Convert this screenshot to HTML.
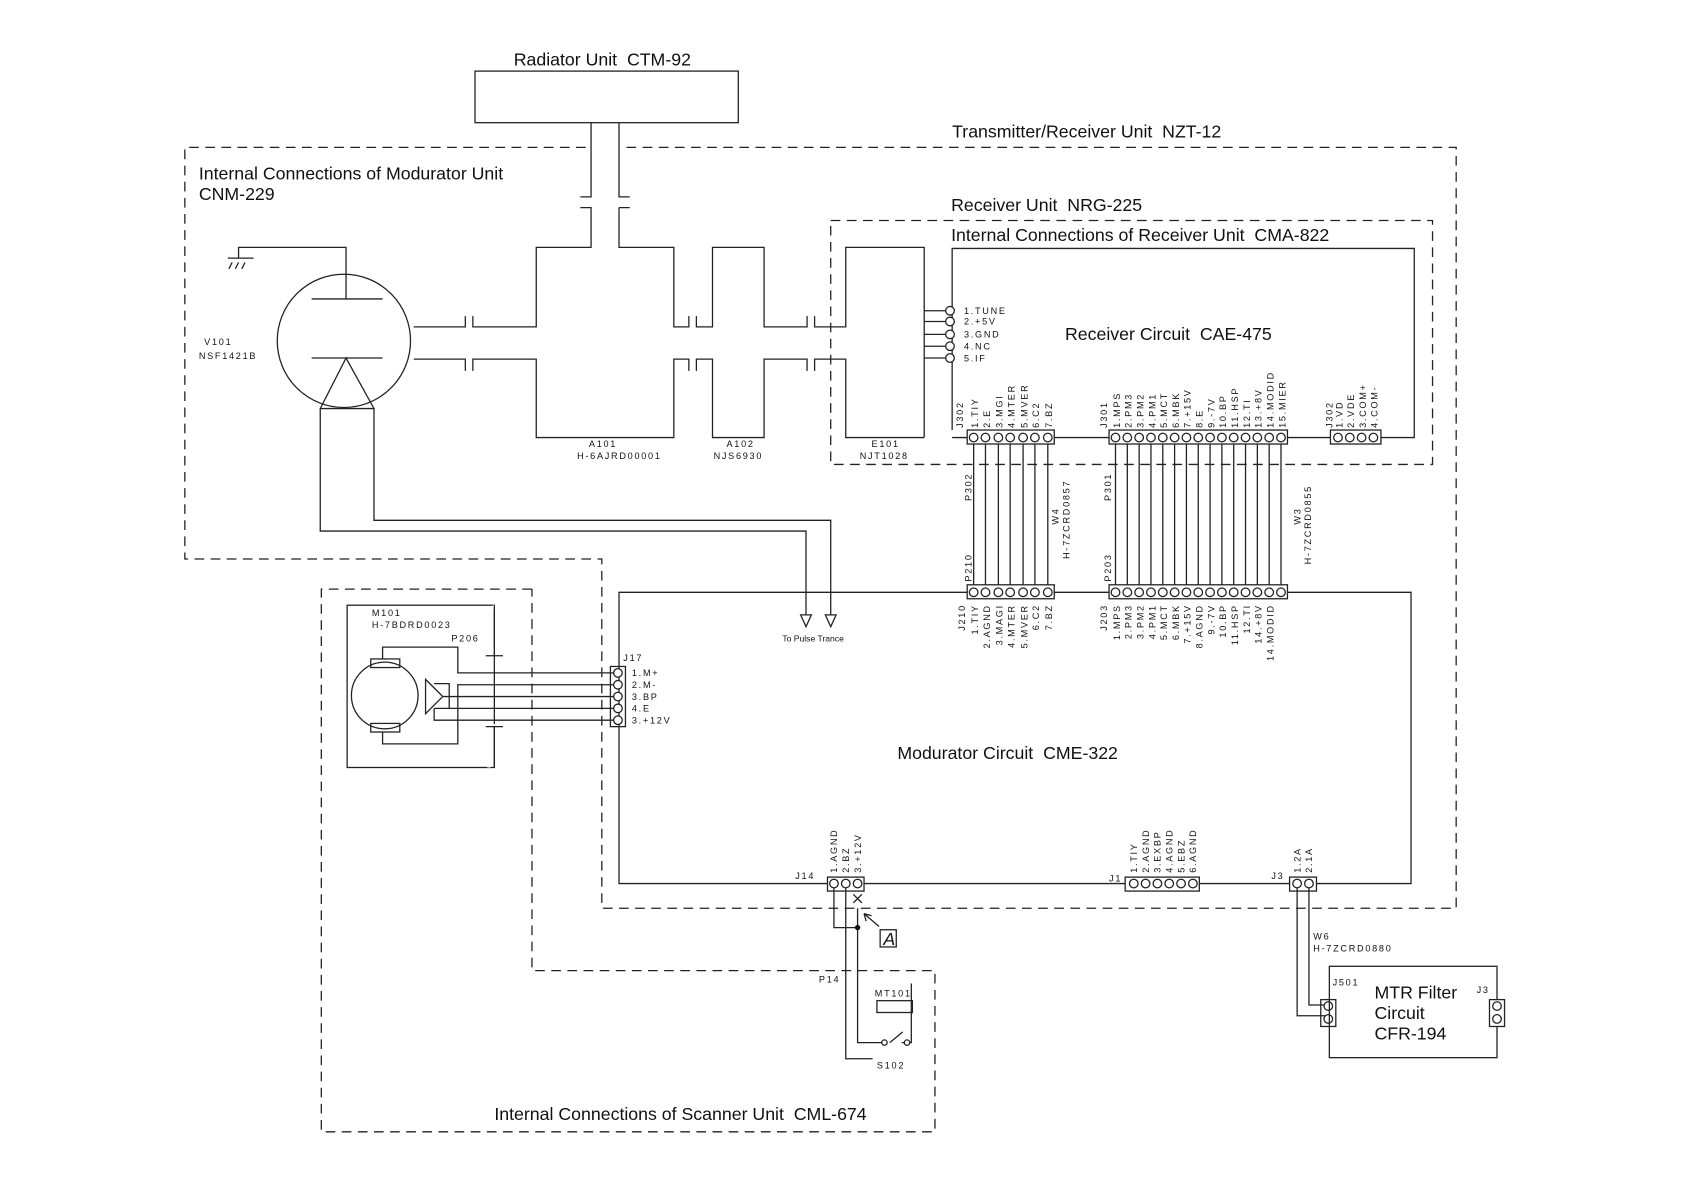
<!DOCTYPE html>
<html><head><meta charset="utf-8"><style>
html,body{margin:0;padding:0;background:#fff;}
svg{display:block}
text{font-family:"Liberation Sans",sans-serif;fill:#111}
.t{font-size:16.5px}
.m{font-family:"Liberation Mono",monospace;font-size:8.5px;letter-spacing:1.6px}
</style></head><body>
<svg width="1684" height="1190" viewBox="0 0 1567 1107" xmlns="http://www.w3.org/2000/svg">
<g fill="none" stroke="#222" stroke-width="1.2">
<g stroke-dasharray="9,6">
<path d="M583 137H1355V845H560V520H172V137H550"/>
<rect x="773" y="205" width="560" height="227"/>
<path d="M495 548H299V1053H870V903H495V548"/>
</g>
<rect x="442" y="66" width="245" height="48"/>
<path d="M550 114V183H540M576 114V183H586M540 193H550V230H499V304H440V294M576 193H586M576 193V230H627V304H641V294M648 294V304H663V230H711V304H751V294M758 294V304H787V230H860V407"/>
<path d="M385 304H433V294"/>
<path d="M385 334H433V345M440 345V334H499V407H627V334H641V345M648 345V334H663V407H711V334H751V345M758 345V334H787V407H860"/>
<circle cx="320" cy="317" r="62"/>
<path d="M290 278H356M290 333H356M322 278V230H222V240M212 240H236M216 244L213 250M222 244L219 250M228 244L225 250M322 333L298 380H348Z"/>
<path d="M298 380V494H750V572M348 380V484H773V572"/>
<path d="M745 572L750 583L755 572ZM768 572L773 583L778 572Z"/>
<path d="M886 400V231H1316V407H1285M1238 407H1198M1032 407H981M900 407H886"/>
<path d="M860 289H880M860 299H880M860 311H880M860 322H880M860 333H880"/>
<g fill="#fff"><circle cx="884" cy="289" r="4"/><circle cx="884" cy="299" r="4"/><circle cx="884" cy="311" r="4"/><circle cx="884" cy="322" r="4"/><circle cx="884" cy="333" r="4"/></g>
<rect x="900" y="400" width="81" height="13"/><rect x="1032" y="400" width="166" height="13"/><rect x="1238" y="400" width="47" height="13"/>
<rect x="900" y="544" width="81" height="13"/><rect x="1032" y="544" width="166" height="13"/>
<path d="M906 413V544M917 413V544M929 413V544M940 413V544M952 413V544M963 413V544M975 413V544"/>
<path d="M1038 413V544M1049 413V544M1060 413V544M1071 413V544M1082 413V544M1093 413V544M1104 413V544M1115 413V544M1126 413V544M1137 413V544M1148 413V544M1159 413V544M1170 413V544M1181 413V544M1192 413V544"/>
<g fill="#fff">
<circle cx="906" cy="407" r="4"/><circle cx="917" cy="407" r="4"/><circle cx="929" cy="407" r="4"/><circle cx="940" cy="407" r="4"/><circle cx="952" cy="407" r="4"/><circle cx="963" cy="407" r="4"/><circle cx="975" cy="407" r="4"/>
<circle cx="906" cy="551" r="4"/><circle cx="917" cy="551" r="4"/><circle cx="929" cy="551" r="4"/><circle cx="940" cy="551" r="4"/><circle cx="952" cy="551" r="4"/><circle cx="963" cy="551" r="4"/><circle cx="975" cy="551" r="4"/>
<circle cx="1245" cy="407" r="4"/><circle cx="1256" cy="407" r="4"/><circle cx="1267" cy="407" r="4"/><circle cx="1278" cy="407" r="4"/>
<circle cx="1038" cy="407" r="4"/><circle cx="1049" cy="407" r="4"/><circle cx="1060" cy="407" r="4"/><circle cx="1071" cy="407" r="4"/><circle cx="1082" cy="407" r="4"/><circle cx="1093" cy="407" r="4"/><circle cx="1104" cy="407" r="4"/><circle cx="1115" cy="407" r="4"/><circle cx="1126" cy="407" r="4"/><circle cx="1137" cy="407" r="4"/><circle cx="1148" cy="407" r="4"/><circle cx="1159" cy="407" r="4"/><circle cx="1170" cy="407" r="4"/><circle cx="1181" cy="407" r="4"/><circle cx="1192" cy="407" r="4"/>
<circle cx="1038" cy="551" r="4"/><circle cx="1049" cy="551" r="4"/><circle cx="1060" cy="551" r="4"/><circle cx="1071" cy="551" r="4"/><circle cx="1082" cy="551" r="4"/><circle cx="1093" cy="551" r="4"/><circle cx="1104" cy="551" r="4"/><circle cx="1115" cy="551" r="4"/><circle cx="1126" cy="551" r="4"/><circle cx="1137" cy="551" r="4"/><circle cx="1148" cy="551" r="4"/><circle cx="1159" cy="551" r="4"/><circle cx="1170" cy="551" r="4"/><circle cx="1181" cy="551" r="4"/><circle cx="1192" cy="551" r="4"/>
</g>
<path d="M900 551H576V822H770M804 822H1047M1116 822H1200M1225 822H1313V551H1198M1032 551H981"/>
<rect x="568" y="620" width="14" height="56"/>
<g fill="#fff"><circle cx="575" cy="626" r="4"/><circle cx="575" cy="637" r="4"/><circle cx="575" cy="648" r="4"/><circle cx="575" cy="659" r="4"/><circle cx="575" cy="670" r="4"/></g>
<rect x="323" y="563" width="137" height="151"/>
<path d="M460 563V567M455 566V605M448 605H462M455 675V714M448 675H462" stroke="#fff" stroke-width="3"/>
<path d="M460 563V610M452 610H468M460 676V714M452 676H468"/>
<circle cx="358" cy="647" r="31"/>
<rect x="345" y="613" width="27" height="8"/><rect x="345" y="673" width="27" height="8"/>
<path d="M356 613V602H426V626H571M356 681V692H426V637H571"/>
<path d="M396 632L412 648L396 664Z M404 636H418V659H404 M412 648H571 M418 659H571 M404 659V670H571"/>
<rect x="770" y="816" width="34" height="13"/><rect x="1047" y="816" width="69" height="13"/><rect x="1200" y="816" width="25" height="13"/>
<g fill="#fff"><circle cx="776" cy="822" r="4"/><circle cx="787" cy="822" r="4"/><circle cx="798" cy="822" r="4"/>
<circle cx="1055" cy="822" r="4"/><circle cx="1066" cy="822" r="4"/><circle cx="1077" cy="822" r="4"/><circle cx="1088" cy="822" r="4"/><circle cx="1099" cy="822" r="4"/><circle cx="1110" cy="822" r="4"/>
<circle cx="1207" cy="822" r="4"/><circle cx="1218" cy="822" r="4"/></g>
<path d="M794 832L802 840M802 832L794 840M776 826V863H798V845M787 826V985H812M798 845V970H822M839 970H848V915M828 970L840 960"/>
<rect x="816" y="931" width="33" height="11"/>
<circle cx="823" cy="970" r="2.5" fill="#fff"/><circle cx="844" cy="970" r="2.5" fill="#fff"/>
<path d="M818 862L804 850M804 850L806 857M804 850L811 852"/>
<rect x="819" y="865" width="15" height="16"/>
<path d="M1207 826V945H1233M1218 826V935H1233"/>
<rect x="1229" y="930" width="14" height="25"/><circle cx="1236" cy="936" r="4" fill="#fff"/><circle cx="1236" cy="948" r="4" fill="#fff"/>
<rect x="1237" y="899" width="156" height="85"/>
<rect x="1386" y="930" width="14" height="25" fill="#fff"/><circle cx="1393" cy="936" r="4"/><circle cx="1393" cy="948" r="4"/>
</g>
<circle cx="798" cy="863" r="2.5" fill="#111"/>
<text x="822" y="879" class="t" font-style="italic" font-size="13">A</text>

<text x="478" y="61" class="t">Radiator Unit&#160; CTM-92</text>
<text x="886" y="128" class="t">Transmitter/Receiver Unit&#160; NZT-12</text>
<text x="185" y="167" class="t">Internal Connections of Modurator Unit</text>
<text x="185" y="186" class="t">CNM-229</text>
<text x="885" y="196" class="t">Receiver Unit&#160; NRG-225</text>
<text x="885" y="224" class="t">Internal Connections of Receiver Unit&#160; CMA-822</text>
<text x="991" y="316" class="t">Receiver Circuit&#160; CAE-475</text>
<text x="835" y="706" class="t">Modurator Circuit&#160; CME-322</text>
<text x="460" y="1042" class="t">Internal Connections of Scanner Unit&#160; CML-674</text>
<text x="1279" y="929" class="t">MTR Filter</text>
<text x="1279" y="948" class="t">Circuit</text>
<text x="1279" y="967" class="t">CFR-194</text>
<text x="728" y="597" font-size="8">To Pulse Trance</text>

<g class="m">
<text x="190" y="321">V101</text><text x="185" y="334">NSF1421B</text>
<text x="548" y="416">A101</text><text x="537" y="427">H-6AJRD00001</text>
<text x="676" y="416">A102</text><text x="664" y="427">NJS6930</text>
<text x="811" y="416">E101</text><text x="800" y="427">NJT1028</text>
<text x="897" y="292">1.TUNE</text><text x="897" y="302">2.+5V</text><text x="897" y="314">3.GND</text><text x="897" y="325">4.NC</text><text x="897" y="336">5.IF</text>
<text x="346" y="573">M101</text><text x="346" y="584">H-7BDRD0023</text><text x="420" y="597">P206</text>
<text x="580" y="615">J17</text>
<text x="588" y="629">1.M+</text><text x="588" y="640">2.M-</text><text x="588" y="651">3.BP</text><text x="588" y="662">4.E</text><text x="588" y="673">3.+12V</text>
<text x="740" y="818">J14</text><text x="1032" y="820">J1</text><text x="1183" y="818">J3</text>
<text x="1222" y="874">W6</text><text x="1222" y="885">H-7ZCRD0880</text>
<text x="1240" y="917">J501</text><text x="1374" y="924">J3</text>
<text x="762" y="914">P14</text><text x="814" y="927">MT101</text><text x="816" y="994">S102</text>
</g>
<g class="m">
<text transform="translate(896,398) rotate(-90)">J302</text>
<text transform="translate(910,398) rotate(-90)">1.TIY</text><text transform="translate(921,398) rotate(-90)">2.E</text><text transform="translate(933,398) rotate(-90)">3.MGI</text><text transform="translate(944,398) rotate(-90)">4.MTER</text><text transform="translate(956,398) rotate(-90)">5.MVER</text><text transform="translate(967,398) rotate(-90)">6.C2</text><text transform="translate(979,398) rotate(-90)">7.BZ</text>
<text transform="translate(1030,398) rotate(-90)">J301</text>
<text transform="translate(1042,398) rotate(-90)">1.MPS</text><text transform="translate(1053,398) rotate(-90)">2.PM3</text><text transform="translate(1064,398) rotate(-90)">3.PM2</text><text transform="translate(1075,398) rotate(-90)">4.PM1</text><text transform="translate(1086,398) rotate(-90)">5.MCT</text><text transform="translate(1097,398) rotate(-90)">6.MBK</text><text transform="translate(1108,398) rotate(-90)">7.+15V</text><text transform="translate(1119,398) rotate(-90)">8.E</text><text transform="translate(1130,398) rotate(-90)">9.-7V</text><text transform="translate(1141,398) rotate(-90)">10.BP</text><text transform="translate(1152,398) rotate(-90)">11.HSP</text><text transform="translate(1163,398) rotate(-90)">12.TI</text><text transform="translate(1174,398) rotate(-90)">13.+8V</text><text transform="translate(1185,398) rotate(-90)">14.MODID</text><text transform="translate(1196,398) rotate(-90)">15.MIER</text>
<text transform="translate(1240,398) rotate(-90)">J302</text>
<text transform="translate(1249,398) rotate(-90)">1.VD</text><text transform="translate(1260,398) rotate(-90)">2.VDE</text><text transform="translate(1271,398) rotate(-90)">3.COM+</text><text transform="translate(1282,398) rotate(-90)">4.COM-</text>
<text transform="translate(904,466) rotate(-90)">P302</text>
<text transform="translate(985,488) rotate(-90)">W4</text><text transform="translate(995,520) rotate(-90)">H-7ZCRD0857</text>
<text transform="translate(904,541) rotate(-90)">P210</text>
<text transform="translate(1034,466) rotate(-90)">P301</text>
<text transform="translate(1034,541) rotate(-90)">P203</text>
<text transform="translate(1210,488) rotate(-90)">W3</text><text transform="translate(1220,525) rotate(-90)">H-7ZCRD0855</text>
<g text-anchor="end">
<text transform="translate(898,562) rotate(-90)">J210</text>
<text transform="translate(910,562) rotate(-90)">1.TIY</text><text transform="translate(921,562) rotate(-90)">2.AGND</text><text transform="translate(933,562) rotate(-90)">3.MAGI</text><text transform="translate(944,562) rotate(-90)">4.MTER</text><text transform="translate(956,562) rotate(-90)">5.MVER</text><text transform="translate(967,562) rotate(-90)">6.C2</text><text transform="translate(979,562) rotate(-90)">7.BZ</text>
<text transform="translate(1030,562) rotate(-90)">J203</text>
<text transform="translate(1042,562) rotate(-90)">1.MPS</text><text transform="translate(1053,562) rotate(-90)">2.PM3</text><text transform="translate(1064,562) rotate(-90)">3.PM2</text><text transform="translate(1075,562) rotate(-90)">4.PM1</text><text transform="translate(1086,562) rotate(-90)">5.MCT</text><text transform="translate(1097,562) rotate(-90)">6.MBK</text><text transform="translate(1108,562) rotate(-90)">7.+15V</text><text transform="translate(1119,562) rotate(-90)">8.AGND</text><text transform="translate(1130,562) rotate(-90)">9.-7V</text><text transform="translate(1141,562) rotate(-90)">10.BP</text><text transform="translate(1152,562) rotate(-90)">11.HSP</text><text transform="translate(1163,562) rotate(-90)">12.TI</text><text transform="translate(1174,562) rotate(-90)">14.+8V</text><text transform="translate(1185,562) rotate(-90)">14.MODID</text>
</g>
<text transform="translate(779,812) rotate(-90)">1.AGND</text><text transform="translate(790,812) rotate(-90)">2.BZ</text><text transform="translate(801,812) rotate(-90)">3.+12V</text>
<text transform="translate(1058,812) rotate(-90)">1.TIY</text><text transform="translate(1069,812) rotate(-90)">2.AGND</text><text transform="translate(1080,812) rotate(-90)">3.EXBP</text><text transform="translate(1091,812) rotate(-90)">4.AGND</text><text transform="translate(1102,812) rotate(-90)">5.EBZ</text><text transform="translate(1113,812) rotate(-90)">6.AGND</text>
<text transform="translate(1210,812) rotate(-90)">1.2A</text><text transform="translate(1221,812) rotate(-90)">2.1A</text>
</g>
</svg>
</body></html>
